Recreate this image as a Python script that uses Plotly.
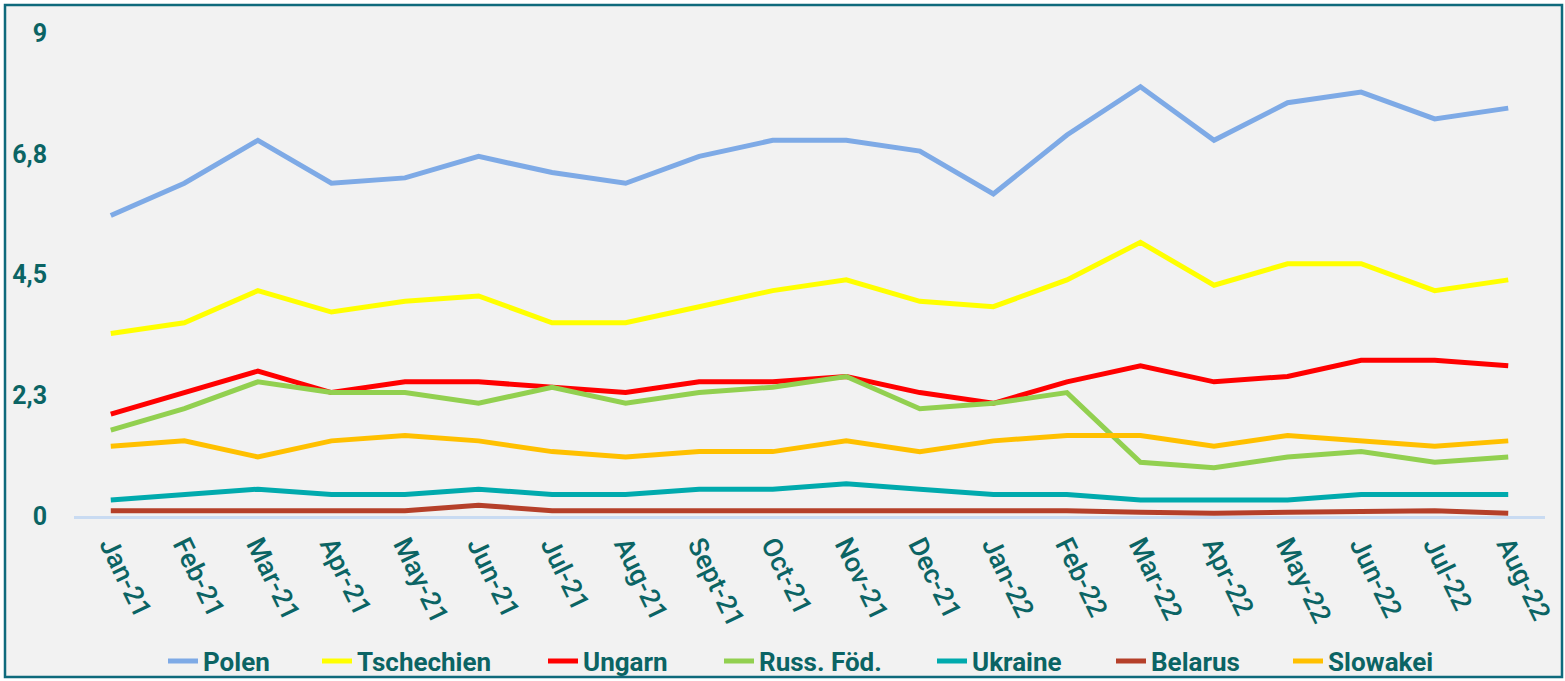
import plotly.graph_objects as go

months = ["Jan-21", "Feb-21", "Mar-21", "Apr-21", "May-21", "Jun-21", "Jul-21", "Aug-21",
          "Sept-21", "Oct-21", "Nov-21", "Dec-21", "Jan-22", "Feb-22", "Mar-22", "Apr-22",
          "May-22", "Jun-22", "Jul-22", "Aug-22"]

polen = [5.6, 6.2, 7.0, 6.2, 6.3, 6.7, 6.4, 6.2, 6.7, 7.0, 7.0, 6.8, 6.0, 7.1, 8.0, 7.0, 7.7, 7.9, 7.4, 7.6]
tschechien = [3.4, 3.6, 4.2, 3.8, 4.0, 4.1, 3.6, 3.6, 3.9, 4.2, 4.4, 4.0, 3.9, 4.4, 5.1, 4.3, 4.7, 4.7, 4.2, 4.4]
ungarn = [1.9, 2.3, 2.7, 2.3, 2.5, 2.5, 2.4, 2.3, 2.5, 2.5, 2.6, 2.3, 2.1, 2.5, 2.8, 2.5, 2.6, 2.9, 2.9, 2.8]
russ = [1.6, 2.0, 2.5, 2.3, 2.3, 2.1, 2.4, 2.1, 2.3, 2.4, 2.6, 2.0, 2.1, 2.3, 1.0, 0.9, 1.1, 1.2, 1.0, 1.1]
ukraine = [0.3, 0.4, 0.5, 0.4, 0.4, 0.5, 0.4, 0.4, 0.5, 0.5, 0.6, 0.5, 0.4, 0.4, 0.3, 0.3, 0.3, 0.4, 0.4, 0.4]
belarus = [0.1, 0.1, 0.1, 0.1, 0.1, 0.2, 0.1, 0.1, 0.1, 0.1, 0.1, 0.1, 0.1, 0.1, 0.07, 0.05, 0.07, 0.08, 0.1, 0.05]
slowakei = [1.3, 1.4, 1.1, 1.4, 1.5, 1.4, 1.2, 1.1, 1.2, 1.2, 1.4, 1.2, 1.4, 1.5, 1.5, 1.3, 1.5, 1.4, 1.3, 1.4]

series_names = ["Polen", "Tschechien", "Ungarn", "Russ. Föd.", "Ukraine", "Belarus", "Slowakei"]
series_values = [polen, tschechien, ungarn, russ, ukraine, belarus, slowakei]
series_colors = ["#7eaae6", "#ffff00", "#ff0000", "#92d050", "#00aaad", "#b5402a", "#ffc000"]

y_tickvals = [0, 2.25, 4.5, 6.75, 9]
y_ticktext = ["0", "2,3", "4,5", "6,8", "9"]

TEAL = "#0b6464"
BORDER = "#0f6a7c"

W, H = 1565, 681
ml, mr, mt, mb = 74, 20, 33, 165
pw, ph = W - ml - mr, H - mt - mb


def px2paper_x(px):
    return (px - ml) / pw


def px2paper_y(py):
    return (H - mb - py) / ph


# legend text start positions (pixels) for each series' own legend
legend_text_px = [203, 357, 583, 759, 972, 1151, 1328]

fig = go.Figure()
for i, (name, vals, col) in enumerate(zip(series_names, series_values, series_colors)):
    lg = "legend" if i == 0 else f"legend{i + 1}"
    fig.add_trace(go.Scatter(x=months, y=vals, name=name, mode="lines",
                             line=dict(color=col, width=5), legend=lg))

fig.add_shape(type="rect", xref="paper", yref="paper",
              x0=px2paper_x(5), x1=px2paper_x(1562), y0=px2paper_y(677), y1=px2paper_y(5),
              line=dict(color=BORDER, width=2.5), fillcolor="#f2f2f2", layer="below")

legend_common = dict(orientation="h", yanchor="middle", y=px2paper_y(661), xanchor="left",
                     font=dict(family="Roboto", size=26, color=TEAL, weight="bold"),
                     bgcolor="rgba(0,0,0,0)", itemwidth=30, borderwidth=0)

layout_legends = {}
for i, tx in enumerate(legend_text_px):
    key = "legend" if i == 0 else f"legend{i + 1}"
    layout_legends[key] = dict(legend_common, x=px2paper_x(tx - 40))

fig.update_layout(
    template="none",
    width=W, height=H,
    margin=dict(l=ml, r=mr, t=mt, b=mb, autoexpand=False),
    paper_bgcolor="white",
    plot_bgcolor="rgba(0,0,0,0)",
    font=dict(family="Roboto", color=TEAL),
    showlegend=True,
    xaxis=dict(type="category", range=[-0.5, 19.5], showgrid=False, zeroline=False,
               showline=True, linecolor="#c9dbf2", linewidth=2.5, automargin=False,
               ticks="", tickangle=64,
               tickfont=dict(family="Roboto", size=27, color=TEAL, weight=500)),
    yaxis=dict(range=[0, 9], tickvals=y_tickvals, ticktext=y_ticktext, showgrid=False,
               zeroline=False, showline=False, ticklabelstandoff=26, automargin=False, ticks="",
               tickfont=dict(family="Roboto", size=25, color=TEAL, weight="bold")),
    **layout_legends,
)

fig.write_html("out.html", config={"displayModeBar": False},
               post_script="document.body.style.margin='0';document.body.style.overflow='hidden';")
